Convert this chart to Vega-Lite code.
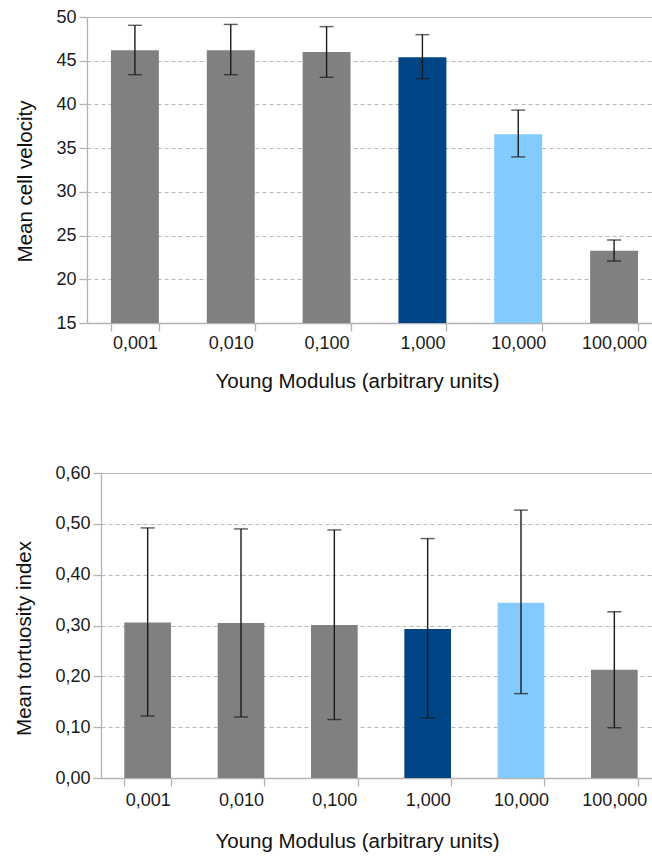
{
  "$schema": "https://vega.github.io/schema/vega-lite/v6.json",
  "padding": {"left": 14, "top": 8, "right": 0, "bottom": 4},
  "background": "white",
  "config": {
    "font": "Liberation Sans",
    "view": {"stroke": null},
    "axis": {
      "labelFont": "Liberation Sans",
      "labelFontSize": 18,
      "labelColor": "#1a1a1a",
      "titleFont": "Liberation Sans",
      "titleFontSize": 20.5,
      "titleFontWeight": "normal",
      "titleColor": "#111111",
      "domainColor": "#b3b3b3",
      "domainWidth": 1.3,
      "tickColor": "#b3b3b3",
      "tickWidth": 1.3,
      "tickSize": 8,
      "gridColor": "#b8b8b8",
      "gridDash": [4, 3]
    }
  },
  "datasets": {
    "velocity": [
      {"modulus": "0,001", "mean": 46.2, "low": 43.4, "high": 49.05},
      {"modulus": "0,010", "mean": 46.2, "low": 43.4, "high": 49.15},
      {"modulus": "0,100", "mean": 46.0, "low": 43.1, "high": 48.9},
      {"modulus": "1,000", "mean": 45.4, "low": 42.95, "high": 47.98},
      {"modulus": "10,000", "mean": 36.6, "low": 34.0, "high": 39.35},
      {"modulus": "100,000", "mean": 23.25, "low": 22.1, "high": 24.5}
    ],
    "tortuosity": [
      {"modulus": "0,001", "mean": 0.306, "low": 0.122, "high": 0.492},
      {"modulus": "0,010", "mean": 0.305, "low": 0.12, "high": 0.49},
      {"modulus": "0,100", "mean": 0.301, "low": 0.115, "high": 0.488},
      {"modulus": "1,000", "mean": 0.293, "low": 0.118, "high": 0.471},
      {"modulus": "10,000", "mean": 0.345, "low": 0.166, "high": 0.527},
      {"modulus": "100,000", "mean": 0.213, "low": 0.099, "high": 0.327}
    ]
  },
  "spacing": 72,
  "vconcat": [
    {
      "width": 561,
      "height": 306,
      "data": {"name": "velocity"},
      "encoding": {
        "x": {
          "field": "modulus",
          "type": "nominal",
          "sort": null,
          "scale": {"paddingInner": 0.5, "paddingOuter": 0.25, "range": [-14, 561]},
          "axis": {
            "title": "Young Modulus (arbitrary units)",
            "labelAngle": 0,
            "tickBand": "extent",
            "labelPadding": 3,
            "titlePadding": 19,
            "titleX": 256
          }
        }
      },
      "layer": [
        {
          "mark": {"type": "bar", "clip": true},
          "encoding": {
            "y": {
              "field": "mean",
              "type": "quantitative",
              "scale": {"domain": [15, 50], "zero": false, "nice": false},
              "axis": {
                "title": "Mean cell velocity",
                "values": [15, 20, 25, 30, 35, 40, 45, 50],
                "offset": 14,
                "labelPadding": 3,
                "titlePadding": 20,
                "titleY": 164,
                "gridDash": {"condition": {"test": "datum.value === 50", "value": []}, "value": [4, 3]}
              }
            },
            "color": {
              "field": "modulus",
              "type": "nominal",
              "scale": {
                "domain": ["0,001", "0,010", "0,100", "1,000", "10,000", "100,000"],
                "range": ["#808080", "#808080", "#808080", "#004586", "#83caff", "#808080"]
              },
              "legend": null
            }
          }
        },
        {
          "mark": {"type": "rule", "color": "#1a1a1a", "strokeWidth": 1.4},
          "encoding": {
            "y": {"field": "low", "type": "quantitative"},
            "y2": {"field": "high"}
          }
        },
        {
          "mark": {"type": "tick", "color": "#1a1a1a", "size": 14, "thickness": 1.4, "orient": "horizontal"},
          "encoding": {"y": {"field": "low", "type": "quantitative"}}
        },
        {
          "mark": {"type": "tick", "color": "#1a1a1a", "size": 14, "thickness": 1.4, "orient": "horizontal"},
          "encoding": {"y": {"field": "high", "type": "quantitative"}}
        }
      ]
    },
    {
      "width": 560,
      "height": 305,
      "data": {"name": "tortuosity"},
      "encoding": {
        "x": {
          "field": "modulus",
          "type": "nominal",
          "sort": null,
          "scale": {"paddingInner": 0.5, "paddingOuter": 0.25},
          "axis": {
            "title": "Young Modulus (arbitrary units)",
            "labelAngle": 0,
            "tickBand": "extent",
            "labelPadding": 5,
            "titlePadding": 22,
            "titleX": 256
          }
        }
      },
      "layer": [
        {
          "mark": {"type": "bar"},
          "encoding": {
            "y": {
              "field": "mean",
              "type": "quantitative",
              "scale": {"domain": [0, 0.6], "nice": false},
              "axis": {
                "title": "Mean tortuosity index",
                "values": [0, 0.1, 0.2, 0.3, 0.4, 0.5, 0.6],
                "labelExpr": "replace(format(datum.value, '.2f'), '.', ',')",
                "labelPadding": 3,
                "titlePadding": 20,
                "titleY": 165,
                "gridDash": {"condition": {"test": "datum.value > 0.59", "value": []}, "value": [4, 3]}
              }
            },
            "color": {
              "field": "modulus",
              "type": "nominal",
              "scale": {
                "domain": ["0,001", "0,010", "0,100", "1,000", "10,000", "100,000"],
                "range": ["#808080", "#808080", "#808080", "#004586", "#83caff", "#808080"]
              },
              "legend": null
            }
          }
        },
        {
          "mark": {"type": "rule", "color": "#1a1a1a", "strokeWidth": 1.4},
          "encoding": {
            "y": {"field": "low", "type": "quantitative"},
            "y2": {"field": "high"}
          }
        },
        {
          "mark": {"type": "tick", "color": "#1a1a1a", "size": 14, "thickness": 1.4, "orient": "horizontal"},
          "encoding": {"y": {"field": "low", "type": "quantitative"}}
        },
        {
          "mark": {"type": "tick", "color": "#1a1a1a", "size": 14, "thickness": 1.4, "orient": "horizontal"},
          "encoding": {"y": {"field": "high", "type": "quantitative"}}
        }
      ]
    }
  ]
}
